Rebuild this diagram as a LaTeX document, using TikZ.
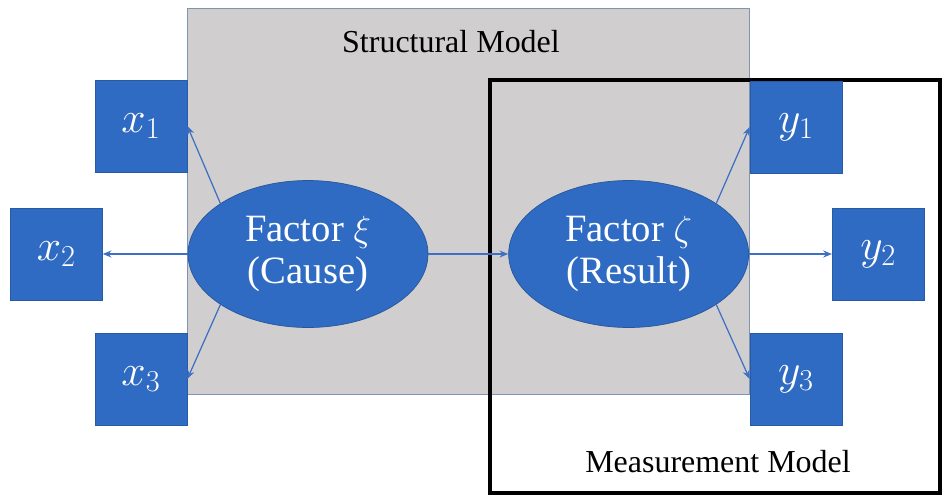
\documentclass[tikz,border=0pt]{standalone}
\usepackage{fontspec}
\setmainfont{Liberation Serif}
\usepackage{tikz}
\usetikzlibrary{shapes.geometric, arrows.meta, positioning}
\definecolor{BoxBlue}{HTML}{2F6BC2}
\definecolor{LineBlue}{HTML}{3D6FC4}
\definecolor{PanelGray}{HTML}{D0CECE}
\definecolor{PanelEdge}{HTML}{7F93B5}
\tikzset{
  % Box styles
  panelbox/.style={rectangle, draw=PanelEdge, fill=PanelGray, line width=0.6pt},
  modelbox/.style={rectangle, draw=black, line width=1.8pt},
  itembox/.style={rectangle, draw=BoxBlue!85!black, fill=BoxBlue, minimum width=1.84cm, minimum height=1.84cm, inner sep=0pt, text=white, font=\fontsize{24}{26}\selectfont},
  % Node styles
  factornode/.style={ellipse, draw=BoxBlue!80!black, fill=BoxBlue, minimum width=4.8cm, minimum height=2.94cm, inner sep=0pt, text=white, align=center, font=\fontsize{22}{24}\selectfont},
  titletext/.style={font=\fontsize{18.2}{20}\selectfont},
  % Arrow styles
  arrow/.style={-{Stealth[length=5pt, width=4pt]}, line width=0.7pt, LineBlue}
}

\begin{document}
\begin{tikzpicture}[x=0.02cm, y=-0.02cm]
  \useasboundingbox (0,0) rectangle (945,500);

  % Panels
  \node[panelbox, minimum width=11.26cm, minimum height=7.74cm] (structural) at (468.5,201.5) {};
  \node[titletext] (stitle) at (451,42) {Structural Model};
  \node[modelbox, minimum width=9cm, minimum height=8.26cm] (measurement) at (715,286.5) {};
  \node[titletext] (mtitle) at (718,462) {Measurement Model};

  % Factors
  \node[factornode] (cause) at (308,254) {Factor $\xi$\\(Cause)};
  \node[factornode, right=1.6cm of cause] (result) {Factor $\zeta$\\(Result)};

  % Indicators
  \node[itembox] (x1) at (141,126) {$x_1$};
  \node[itembox, left=1.7cm of cause] (x2) {$x_2$};
  \node[itembox] (x3) at (141,379) {$x_3$};
  \node[itembox] (y1) at (796,127) {$y_1$};
  \node[itembox, right=1.66cm of result] (y2) {$y_2$};
  \node[itembox] (y3) at (796,379) {$y_3$};

  % Arrows
  \draw[arrow] (cause.150) -- (x1.east);
  \draw[arrow] (cause.west) -- (x2.east);
  \draw[arrow] (cause.-150) -- (x3.east);
  \draw[arrow] (cause.east) -- (result.west);
  \draw[arrow] (result.30) -- (y1.west);
  \draw[arrow] (result.east) -- (y2.west);
  \draw[arrow] (result.-30) -- (y3.west);
\end{tikzpicture}
\end{document}
